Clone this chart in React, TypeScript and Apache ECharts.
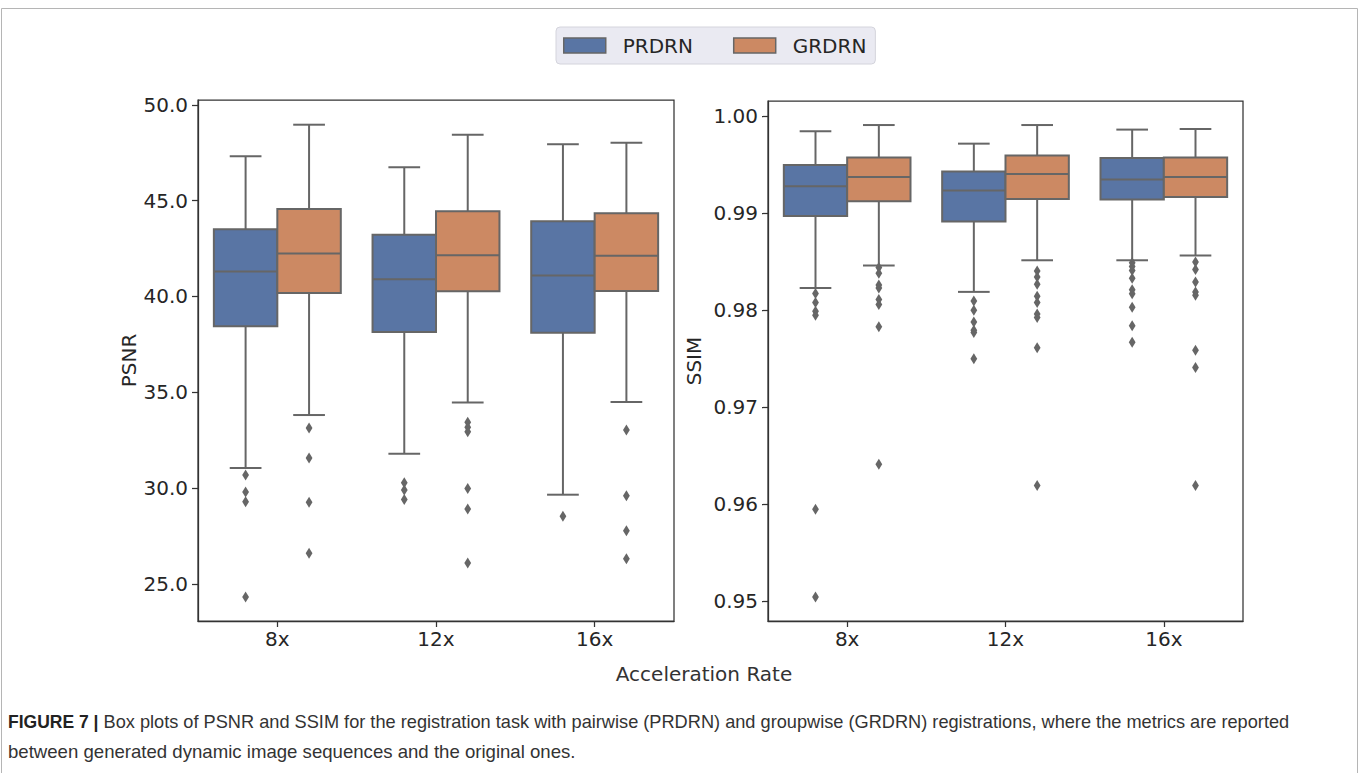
import React, { useEffect, useRef } from 'react';
import * as echarts from 'echarts';

const categories = ['8x', '12x', '16x'];
const seriesNames = ['PRDRN', 'GRDRN'];
const yTicksPSNR = [25, 30, 35, 40, 45, 50];
const yTicksSSIM = [0.95, 0.96, 0.97, 0.98, 0.99, 1.0];

// [lower whisker, Q1, median, Q3, upper whisker] per category
const psnrPRDRN = [
  [31.04, 38.44, 41.31, 43.51, 47.32],
  [31.79, 38.15, 40.9, 43.23, 46.75],
  [29.65, 38.11, 41.09, 43.93, 47.95],
];
const psnrGRDRN = [
  [33.81, 40.18, 42.24, 44.57, 48.97],
  [34.47, 40.27, 42.15, 44.45, 48.45],
  [34.49, 40.29, 42.13, 44.34, 48.03],
];
const psnrOutPRDRN = [
  [30.68, 29.79, 29.28, 24.31],
  [30.28, 29.9, 29.4],
  [28.52],
];
const psnrOutGRDRN = [
  [33.13, 31.57, 29.25, 26.59],
  [33.43, 33.17, 32.94, 29.98, 28.9, 26.08],
  [33.03, 29.6, 27.77, 26.31],
];

const ssimPRDRN = [
  [0.9823, 0.98972, 0.99278, 0.99498, 0.99845],
  [0.98189, 0.98914, 0.99234, 0.9943, 0.99718],
  [0.98515, 0.99141, 0.99347, 0.9957, 0.99863],
];
const ssimGRDRN = [
  [0.98461, 0.99124, 0.99374, 0.99574, 0.9991],
  [0.98515, 0.99147, 0.99405, 0.99595, 0.9991],
  [0.98564, 0.99168, 0.99374, 0.99574, 0.99869],
];
const ssimOutPRDRN = [
  [0.98172, 0.98079, 0.9799, 0.97948, 0.95948, 0.95041],
  [0.98096, 0.98, 0.97879, 0.97794, 0.9777, 0.97498],
  [0.9849, 0.9845, 0.9841, 0.9833, 0.9821, 0.9817, 0.9803, 0.9784, 0.9767],
];
const ssimOutGRDRN = [
  [0.9844, 0.9838, 0.9826, 0.9823, 0.9811, 0.9806, 0.9783, 0.9641],
  [0.98405, 0.98343, 0.98268, 0.98144, 0.98079, 0.97962, 0.97925, 0.97612, 0.96193],
  [0.98498, 0.9842, 0.98292, 0.98189, 0.98155, 0.97588, 0.97409, 0.96193],
];

const COLORS = ['#5975a4', '#cc8963'];
const EDGE = '#666666';
const FONT = 'DejaVu Sans';
const TEXT = '#262626';

function boxData(stats: number[][]) {
  return stats.map((s, i) => [i, ...s]);
}
function outlierData(lists: number[][]) {
  const out: number[][] = [];
  lists.forEach((l, i) => l.forEach((v) => out.push([i, v])));
  return out;
}

function boxRender(side: number, color: string) {
  return (params: any, api: any) => {
    const cat = api.value(0);
    const band = api.size([1, 0])[0];
    const half = band * 0.2;
    const capHalf = band * 0.1;
    const cx = api.coord([cat, api.value(3)])[0] + side * band * 0.2;
    const yLo = api.coord([cat, api.value(1)])[1];
    const yQ1 = api.coord([cat, api.value(2)])[1];
    const yMed = api.coord([cat, api.value(3)])[1];
    const yQ3 = api.coord([cat, api.value(4)])[1];
    const yHi = api.coord([cat, api.value(5)])[1];
    const ls = { stroke: EDGE, lineWidth: 2 };
    return {
      type: 'group',
      children: [
        { type: 'line', shape: { x1: cx, y1: yQ1, x2: cx, y2: yLo }, style: ls },
        { type: 'line', shape: { x1: cx, y1: yQ3, x2: cx, y2: yHi }, style: ls },
        { type: 'line', shape: { x1: cx - capHalf, y1: yLo, x2: cx + capHalf, y2: yLo }, style: ls },
        { type: 'line', shape: { x1: cx - capHalf, y1: yHi, x2: cx + capHalf, y2: yHi }, style: ls },
        {
          type: 'rect',
          shape: { x: cx - half, y: yQ3, width: half * 2, height: yQ1 - yQ3 },
          style: { fill: color, stroke: EDGE, lineWidth: 2 },
        },
        { type: 'line', shape: { x1: cx - half, y1: yMed, x2: cx + half, y2: yMed }, style: ls },
      ],
    };
  };
}

function outlierRender(side: number) {
  return (params: any, api: any) => {
    const band = api.size([1, 0])[0];
    const p = api.coord([api.value(0), api.value(1)]);
    const x = p[0] + side * band * 0.2;
    const y = p[1];
    return {
      type: 'polygon',
      shape: { points: [[x, y - 5.5], [x + 3.4, y], [x, y + 5.5], [x - 3.4, y]] },
      style: { fill: EDGE },
    };
  };
}

export default function App() {
  const ref = useRef<HTMLDivElement>(null);
  useEffect(() => {
    if (!ref.current) return;
    const chart = echarts.init(ref.current, undefined, { renderer: 'svg' });

    const xAxisBase = (gi: number) => ({
      type: 'category',
      gridIndex: gi,
      data: categories,
      boundaryGap: true,
      axisLine: { show: true, lineStyle: { color: '#333333', width: 1.25 } },
      axisTick: { show: true, alignWithLabel: true, length: 6, lineStyle: { color: '#333333', width: 1.25 } },
      axisLabel: { fontSize: 20, color: TEXT, fontFamily: FONT, margin: 8 },
      splitLine: { show: false },
    });
    const yAxisBase = (gi: number, min: number, max: number, ticks: number[], dec: number, name: string, gap: number) => ({
      type: 'value',
      gridIndex: gi,
      min,
      max,
      name,
      nameLocation: 'middle',
      nameGap: gap,
      nameRotate: 90,
      nameTextStyle: { fontSize: 20, color: TEXT, fontFamily: FONT },
      axisLine: { show: true, lineStyle: { color: '#333333', width: 1.25 } },
      axisTick: { show: true, length: 6, customValues: ticks, lineStyle: { color: '#333333', width: 1.25 } },
      axisLabel: {
        customValues: ticks,
        formatter: (v: number) => v.toFixed(dec),
        fontSize: 20,
        color: TEXT,
        fontFamily: FONT,
        margin: 10,
      },
      splitLine: { show: false },
    });

    const series: any[] = [];
    const panels = [
      { gi: 0, boxes: [psnrPRDRN, psnrGRDRN], outs: [psnrOutPRDRN, psnrOutGRDRN] },
      { gi: 1, boxes: [ssimPRDRN, ssimGRDRN], outs: [ssimOutPRDRN, ssimOutGRDRN] },
    ];
    panels.forEach((p) => {
      [0, 1].forEach((h) => {
        const side = h === 0 ? -1 : 1;
        series.push({
          type: 'custom',
          name: seriesNames[h],
          xAxisIndex: p.gi,
          yAxisIndex: p.gi,
          itemStyle: { color: COLORS[h] },
          encode: { x: 0, y: [1, 2, 3, 4, 5] },
          renderItem: boxRender(side, COLORS[h]),
          data: boxData(p.boxes[h]),
          z: 2,
        });
        series.push({
          type: 'custom',
          name: seriesNames[h] + ' outliers',
          xAxisIndex: p.gi,
          yAxisIndex: p.gi,
          encode: { x: 0, y: 1 },
          renderItem: outlierRender(side),
          data: outlierData(p.outs[h]),
          z: 3,
        });
      });
    });

    chart.setOption({
      animation: false,
      backgroundColor: '#ffffff',
      legend: {
        data: seriesNames.map((n) => ({ name: n, icon: 'rect' })),
        left: 556,
        top: 27,
        orient: 'horizontal',
        itemWidth: 42,
        itemHeight: 15,
        itemGap: 40,
        padding: [8, 9, 8, 7],
        backgroundColor: '#eaeaf2',
        borderColor: '#d4d4dc',
        borderWidth: 1,
        borderRadius: 4,
        selectedMode: false,
        itemStyle: { borderColor: EDGE, borderWidth: 1.5 },
        textStyle: { fontSize: 20, color: TEXT, fontFamily: FONT, lineHeight: 21, padding: [0, 0, 0, 12] },
      },
      grid: [
        { left: 198, top: 100, width: 476, height: 521, show: true, borderColor: '#333333', borderWidth: 1.25, backgroundColor: 'rgba(0,0,0,0)' },
        { left: 768, top: 101, width: 475, height: 520, show: true, borderColor: '#333333', borderWidth: 1.25, backgroundColor: 'rgba(0,0,0,0)' },
      ],
      xAxis: [xAxisBase(0), xAxisBase(1)],
      yAxis: [
        yAxisBase(0, 23.055, 50.26, yTicksPSNR, 1, 'PSNR', 59),
        yAxisBase(1, 0.94794, 1.00158, yTicksSSIM, 2, 'SSIM', 64),
      ],
      series,
      graphic: [
        {
          type: 'rect',
          silent: true,
          shape: { x: 1.5, y: 8.5, width: 1356, height: 900 },
          style: { fill: 'none', stroke: '#b5b5b5', lineWidth: 1 },
          z: -10,
        },
        {
          type: 'text',
          x: 704,
          y: 674,
          style: {
            text: 'Acceleration Rate',
            fontSize: 20,
            fontFamily: FONT,
            fill: '#333333',
            align: 'center',
            verticalAlign: 'middle',
          },
        },
        {
          type: 'text',
          x: 8,
          y: 722,
          style: {
            text: '{b|FIGURE 7 |} Box plots of PSNR and SSIM for the registration task with pairwise (PRDRN) and groupwise (GRDRN) registrations, where the metrics are reported',
            fontSize: 18.2,
            fontFamily: 'Liberation Sans',
            fill: '#333333',
            align: 'left',
            verticalAlign: 'middle',
            rich: {
              b: { fontSize: 17.5, fontFamily: 'Liberation Sans', fontWeight: 'bold', fill: '#222222' },
            },
          },
        },
        {
          type: 'text',
          x: 8,
          y: 751,
          style: {
            text: 'between generated dynamic image sequences and the original ones.',
            fontSize: 18.6,
            fontFamily: 'Liberation Sans',
            fill: '#333333',
            align: 'left',
            verticalAlign: 'middle',
          },
        },
      ],
    });
    return () => chart.dispose();
  }, []);
  return (
    <div
      ref={ref}
      style={{ position: 'fixed', left: 0, top: 0, width: 1360, height: 773, background: '#ffffff' }}
    />
  );
}
